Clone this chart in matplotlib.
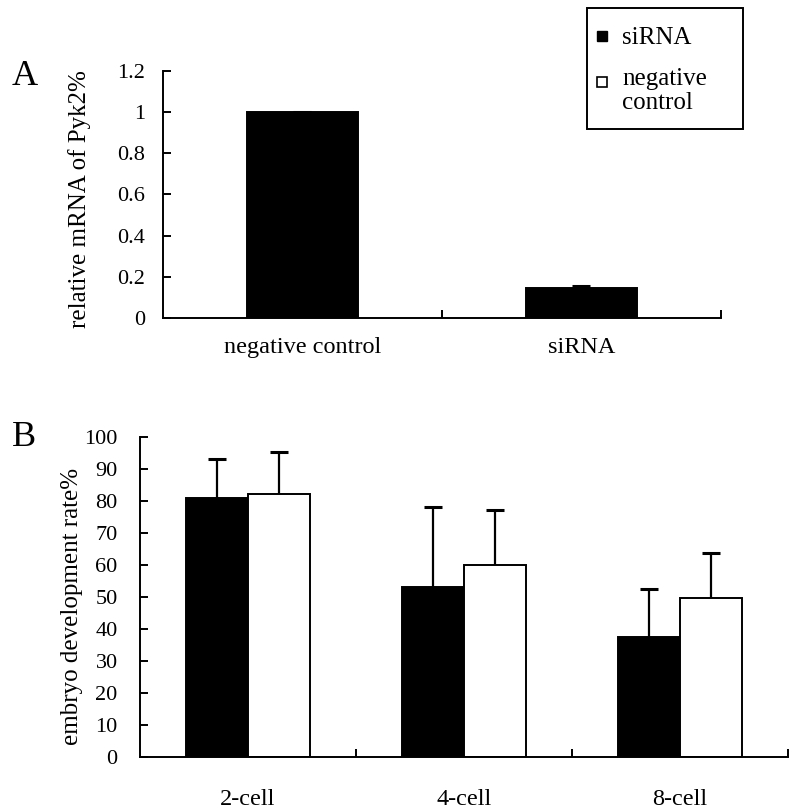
import numpy as np
import matplotlib
matplotlib.use('Agg')
import matplotlib.pyplot as plt
from matplotlib.lines import Line2D
from matplotlib.patches import Rectangle
from matplotlib.legend_handler import HandlerLine2D

# Data
GROUPS_A = ['negative control', 'siRNA']
MRNA = [1.0, 0.145]
MRNA_ERR = [0.0, 0.01]

STAGES = ['2-cell', '4-cell', '8-cell']
SIRNA_RATE = [80.9, 53.1, 37.4]
SIRNA_ERR = [12.0, 24.9, 15.0]
CONTROL_RATE = [82.2, 59.9, 49.7]
CONTROL_ERR = [13.1, 17.2, 13.9]

plt.rcParams['font.family'] = ['Liberation Serif', 'DejaVu Serif']
LW = 1.4


class ShiftedHandler(HandlerLine2D):
    # puts the marker next to the first line of a two-line label
    def __init__(self, shift, **kw):
        super().__init__(**kw)
        self.shift = shift

    def create_artists(self, legend, orig_handle, xdescent, ydescent,
                       width, height, fontsize, trans):
        return super().create_artists(legend, orig_handle, xdescent,
                                      ydescent - self.shift, width, height,
                                      fontsize, trans)


def upper_errorbar(ax, x, y, err):
    # one-sided error bars, only the upper cap is kept
    _, caps, _ = ax.errorbar(x, y, yerr=[np.zeros(len(y)), err], fmt='none',
                             ecolor='black', elinewidth=1.6, capsize=6.5,
                             capthick=2.2)
    for c in caps:
        if np.allclose(c.get_ydata(), y):
            c.set_visible(False)


def style_axes(ax, n, ylim, yticks, ylabels, tickpad, xpad):
    ax.spines['top'].set_visible(False)
    ax.spines['right'].set_visible(False)
    for s in ('left', 'bottom'):
        ax.spines[s].set_linewidth(LW)
    ax.set_xlim(-0.5, n - 0.5)
    ax.set_ylim(*ylim)
    ax.set_yticks(yticks)
    ax.set_yticklabels(ylabels, fontsize=16)
    ax.tick_params(axis='y', direction='in', length=6, width=LW, pad=tickpad)
    # boundaries carry the tick marks, centres carry the labels
    ax.set_xticks(np.arange(n) + 0.5)
    ax.set_xticklabels([])
    ax.tick_params(axis='x', which='major', direction='in', length=6, width=LW)
    ax.set_xticks(np.arange(n), minor=True)
    ax.tick_params(axis='x', which='minor', length=0, pad=xpad, labelsize=17.5)


fig = plt.figure(figsize=(7.93, 8.11), dpi=100)

# Panel A
axA = fig.add_axes([0.2055, 0.6079, 0.7037, 0.3049])
xa = np.arange(len(GROUPS_A))
axA.bar(xa, MRNA, width=0.40, color='black', edgecolor='black', linewidth=LW)
upper_errorbar(axA, xa, MRNA, MRNA_ERR)
style_axes(axA, len(GROUPS_A), (0, 1.2), np.arange(0, 1.21, 0.2),
           ['0', '0.2', '0.4', '0.6', '0.8', '1', '1.2'], 13, 14)
axA.set_xticklabels(GROUPS_A, minor=True)
axA.set_ylabel('relative mRNA of Pyk2%', fontsize=18)
axA.yaxis.set_label_coords(-0.129, 0.48)

# Panel B
axB = fig.add_axes([0.1765, 0.0670, 0.8171, 0.3946])
xb = np.arange(len(STAGES))
w = 0.287
axB.bar(xb - w / 2, SIRNA_RATE, width=w, color='black', edgecolor='black',
        linewidth=LW)
axB.bar(xb + w / 2, CONTROL_RATE, width=w, color='white', edgecolor='black',
        linewidth=LW)
upper_errorbar(axB, xb - w / 2, SIRNA_RATE, SIRNA_ERR)
upper_errorbar(axB, xb + w / 2, CONTROL_RATE, CONTROL_ERR)
style_axes(axB, len(STAGES), (0, 100), np.arange(0, 101, 10),
           [str(v) for v in range(0, 101, 10)], 16, 23)
axB.set_xticklabels(STAGES, minor=True)
axB.set_ylabel('embryo development rate%', fontsize=18)
axB.yaxis.set_label_coords(-0.088, 0.47)

# Legend (frame drawn separately so the padding can match)
h_si = Line2D([], [], ls='none', marker='s', ms=6.5, mfc='black', mec='black')
h_nc = Line2D([], [], ls='none', marker='s', ms=6.5, mfc='white', mec='black',
              mew=1.2)
leg = fig.legend([h_si, h_nc], ['siRNA', 'negative\ncontrol'],
                 loc='upper left', bbox_to_anchor=(597 / 793, 1 - 27 / 811),
                 borderaxespad=0, borderpad=0, frameon=False, fontsize=18,
                 handlelength=0.4, handletextpad=0.6, labelspacing=0.75,
                 handler_map={h_nc: ShiftedHandler(13)})
for t in leg.get_texts():
    t.set_linespacing(1.1)
fig.patches.append(Rectangle((587 / 793, 1 - 129 / 811), 156 / 793, 121 / 811,
                             transform=fig.transFigure, fill=False,
                             edgecolor='black', linewidth=LW))

# Panel letters
fig.text(12 / 793, 1 - 85 / 811, 'A', fontsize=26, va='baseline')
fig.text(12 / 793, 1 - 446 / 811, 'B', fontsize=26, va='baseline')

fig.savefig('out.png', dpi=100)
